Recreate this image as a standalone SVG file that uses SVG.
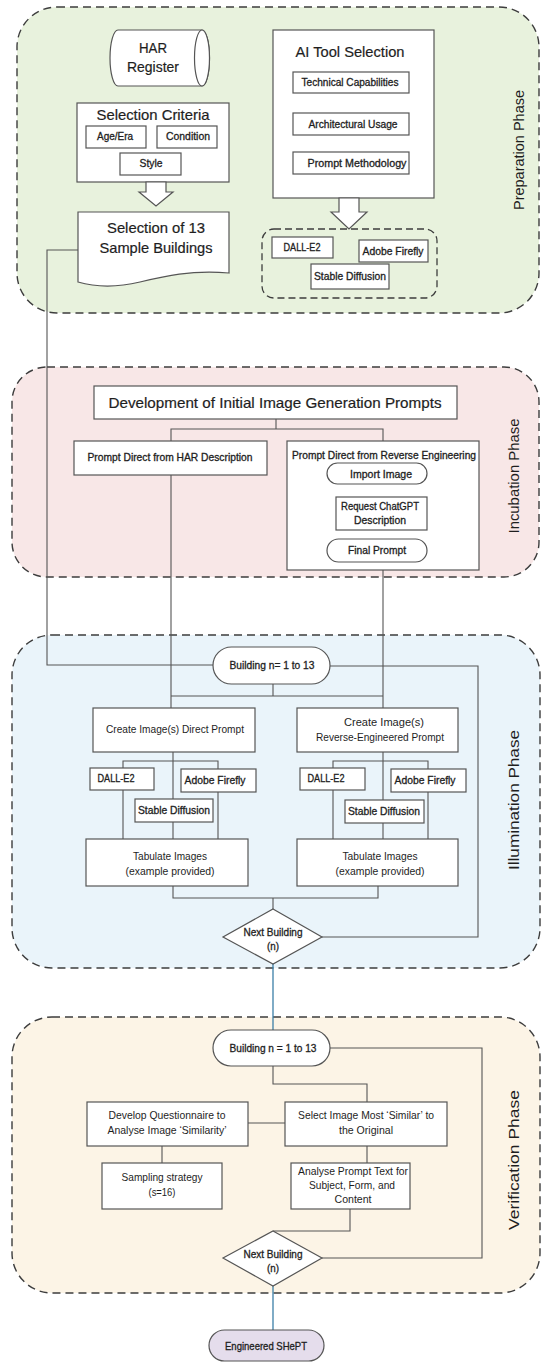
<svg xmlns="http://www.w3.org/2000/svg" width="550" height="1364" viewBox="0 0 550 1364">
<style>
.phase{stroke:#3d3d3d;stroke-width:1.4;stroke-dasharray:8 5}
.box{fill:#fff;stroke:#555;stroke-width:1.2}
.dbox{fill:none;stroke:#3d3d3d;stroke-width:1.3;stroke-dasharray:7 4}
.con{fill:none;stroke:#555;stroke-width:1.1}
.blue{fill:none;stroke:#3b7fa8;stroke-width:1.3}
text{font-family:"Liberation Sans",Arial,sans-serif;fill:#1e1e1e;text-anchor:middle}
.t{font-size:14.5px;stroke:#1e1e1e;stroke-width:0.2}
.s{font-size:10.2px;stroke:#1e1e1e;stroke-width:0.3}
.r{font-size:10.2px}
.ph{font-size:14px}
</style>
<g id="phases">
<rect x="17" y="7" width="522" height="306" rx="40" fill="#e8f2dd" class="phase"/>
<rect x="12" y="367" width="527" height="210" rx="35" fill="#f8e7e7" class="phase"/>
<rect x="12" y="635" width="528" height="333" rx="40" fill="#eaf4fa" class="phase"/>
<rect x="12" y="1017" width="528" height="276" rx="40" fill="#fcf4e6" class="phase"/>
<text class="ph" transform="translate(524,150) rotate(-90)" textLength="120" lengthAdjust="spacingAndGlyphs">Preparation Phase</text>
<text class="ph" transform="translate(519,476) rotate(-90)" textLength="115" lengthAdjust="spacingAndGlyphs">Incubation Phase</text>
<text class="ph" transform="translate(519,800) rotate(-90)" textLength="140" lengthAdjust="spacingAndGlyphs">Illumination Phase</text>
<text class="ph" transform="translate(519,1160) rotate(-90)" textLength="140" lengthAdjust="spacingAndGlyphs">Verification  Phase</text>
</g>
<g id="connectors">
<path class="con" d="M78 250 H47 V665 H213"/>
<path class="con" d="M276 419 V429 M171 441 V429 H383 V441"/>
<path class="con" d="M383 484 V497 M383 530 V539"/>
<path class="con" d="M171 475 V708 M383 570 V708"/>
<path class="con" d="M330 666 H478 V937 H322"/>
<path class="con" d="M273 684 V696 M171 696 H383"/>
<path class="con" d="M173 752 V799 M123 768 V761 H218 V769 M173 822 V839 M123 790 V839 M218 792 V839"/>
<path class="con" d="M383 752 V800 M333 768 V761 H428 V769 M383 823 V839 M333 790 V839 M428 792 V839"/>
<path class="con" d="M173 886 V898 H378 V886 M273 898 V909"/>
<path class="blue" d="M273 964 V1030"/>
<path class="con" d="M273 1066 V1084 H367 V1102"/>
<path class="con" d="M330 1048 H482 V1258 H322"/>
<path class="con" d="M285 1123 H248 M162 1146 V1163 M367 1146 V1163"/>
<path class="con" d="M350 1209 V1231 H273"/>
<path class="blue" d="M273 1286 V1330"/>
</g>
<g id="har-register">
<path class="box" d="M118 30 H202 A7.5 28 0 0 1 202 86 H118 A8 28 0 0 1 118 30 Z"/>
<ellipse cx="202" cy="58" rx="7.5" ry="28" class="box"/>
<text class="t" x="153" y="53" textLength="28" lengthAdjust="spacingAndGlyphs">HAR</text>
<text class="t" x="153" y="72" textLength="52" lengthAdjust="spacingAndGlyphs">Register</text>
</g>
<g id="selection-criteria">
<rect class="box" x="77" y="103" width="152" height="79"/>
<text class="t" x="153" y="120" textLength="113" lengthAdjust="spacingAndGlyphs">Selection Criteria</text>
<rect class="box" x="86" y="126" width="60" height="22"/>
<text class="s" x="115" y="140" textLength="36" lengthAdjust="spacingAndGlyphs">Age/Era</text>
<rect class="box" x="157" y="126" width="60" height="22"/>
<text class="s" x="188" y="140" textLength="44" lengthAdjust="spacingAndGlyphs">Condition</text>
<rect class="box" x="120" y="153" width="61" height="22"/>
<text class="s" x="151" y="167" textLength="23" lengthAdjust="spacingAndGlyphs">Style</text>
<polygon class="box" points="146,182 146,192 139,192 156,206 173,192 166,192 166,182"/>
</g>
<g id="sample-buildings">
<path class="box" d="M78 212 H229 V273 C190 270 165 276 140 282 C115 288 95 287 78 282 Z"/>
<text class="t" x="156" y="233" textLength="98" lengthAdjust="spacingAndGlyphs">Selection of 13</text>
<text class="t" x="156" y="253" textLength="113" lengthAdjust="spacingAndGlyphs">Sample Buildings</text>
</g>
<g id="ai-tool-selection">
<rect class="box" x="273" y="30" width="161" height="168"/>
<text class="t" x="350" y="57" style="font-size:15px" textLength="109" lengthAdjust="spacingAndGlyphs">AI Tool Selection</text>
<rect class="box" x="293" y="72" width="116" height="21"/>
<text class="s" x="350" y="86" textLength="97" lengthAdjust="spacingAndGlyphs">Technical Capabilities</text>
<rect class="box" x="293" y="113" width="116" height="22"/>
<text class="s" x="353" y="128" textLength="89" lengthAdjust="spacingAndGlyphs">Architectural Usage</text>
<rect class="box" x="293" y="152" width="116" height="22"/>
<text class="s" x="357" y="167" textLength="99" lengthAdjust="spacingAndGlyphs">Prompt Methodology</text>
</g>
<g id="ai-tools">
<rect class="dbox" x="262" y="229" width="175" height="69" rx="12" fill="#e8f2dd"/>
<polygon class="box" points="339,198 339,212 331,212 349,229 367,212 359,212 359,198"/>
<rect class="box" x="272" y="237" width="61" height="21"/>
<text class="s" x="302" y="251" textLength="37" lengthAdjust="spacingAndGlyphs">DALL-E2</text>
<rect class="box" x="359" y="240" width="69" height="22"/>
<text class="s" x="393" y="255" textLength="61" lengthAdjust="spacingAndGlyphs">Adobe Firefly</text>
<rect class="box" x="311" y="264" width="78" height="25"/>
<text class="s" x="350" y="280" textLength="72" lengthAdjust="spacingAndGlyphs">Stable Diffusion</text>
</g>
<g id="development">
<rect class="box" x="94" y="386" width="363" height="33"/>
<text class="t" x="275" y="408" style="font-size:15px" textLength="333" lengthAdjust="spacingAndGlyphs">Development of Initial Image Generation Prompts</text>
</g>
<g id="prompt-har">
<rect class="box" x="74" y="441" width="193" height="34"/>
<text class="s" x="170" y="461" textLength="165" lengthAdjust="spacingAndGlyphs">Prompt Direct from HAR Description</text>
</g>
<g id="prompt-reverse">
<rect class="box" x="287" y="441" width="192" height="129"/>
<text class="s" x="384" y="459" textLength="184" lengthAdjust="spacingAndGlyphs">Prompt Direct from Reverse Engineering</text>
<rect class="box" x="327" y="463" width="100" height="21" rx="10.5"/>
<text class="s" x="381" y="478" textLength="62" lengthAdjust="spacingAndGlyphs">Import Image</text>
<rect class="box" x="336" y="497" width="91" height="33"/>
<text class="s" x="380" y="510" textLength="78" lengthAdjust="spacingAndGlyphs">Request ChatGPT</text>
<text class="s" x="380" y="524" textLength="52" lengthAdjust="spacingAndGlyphs">Description</text>
<rect class="box" x="327" y="539" width="100" height="23" rx="11.5"/>
<text class="s" x="377" y="554" textLength="58" lengthAdjust="spacingAndGlyphs">Final Prompt</text>
</g>
<g id="building-loop-1">
<rect class="box" x="213" y="647" width="117" height="37" rx="18.5"/>
<text class="s" x="272" y="669" textLength="85" lengthAdjust="spacingAndGlyphs">Building n= 1 to 13</text>
</g>
<g id="create-direct">
<rect class="box" x="93" y="708" width="162" height="44"/>
<text class="r" x="175" y="733" textLength="138" lengthAdjust="spacingAndGlyphs">Create Image(s) Direct Prompt</text>
<rect class="box" x="90" y="768" width="64" height="22"/>
<text class="s" x="116" y="782" textLength="37" lengthAdjust="spacingAndGlyphs">DALL-E2</text>
<rect class="box" x="181" y="769" width="75" height="23"/>
<text class="s" x="215" y="784" textLength="61" lengthAdjust="spacingAndGlyphs">Adobe Firefly</text>
<rect class="box" x="135" y="799" width="78" height="23"/>
<text class="s" x="174" y="814" textLength="72" lengthAdjust="spacingAndGlyphs">Stable Diffusion</text>
<rect class="box" x="86" y="839" width="162" height="47"/>
<text class="r" x="170" y="860" textLength="74" lengthAdjust="spacingAndGlyphs">Tabulate Images</text>
<text class="r" x="170" y="875" textLength="89" lengthAdjust="spacingAndGlyphs">(example provided)</text>
</g>
<g id="create-reverse">
<rect class="box" x="297" y="708" width="161" height="44"/>
<text class="r" x="384" y="726" textLength="80" lengthAdjust="spacingAndGlyphs">Create Image(s)</text>
<text class="r" x="380" y="741" textLength="128" lengthAdjust="spacingAndGlyphs">Reverse-Engineered Prompt</text>
<rect class="box" x="300" y="768" width="65" height="22"/>
<text class="s" x="326" y="782" textLength="37" lengthAdjust="spacingAndGlyphs">DALL-E2</text>
<rect class="box" x="391" y="769" width="75" height="23"/>
<text class="s" x="425" y="784" textLength="61" lengthAdjust="spacingAndGlyphs">Adobe Firefly</text>
<rect class="box" x="345" y="800" width="79" height="23"/>
<text class="s" x="384" y="815" textLength="72" lengthAdjust="spacingAndGlyphs">Stable Diffusion</text>
<rect class="box" x="297" y="839" width="161" height="47"/>
<text class="r" x="380" y="860" textLength="75" lengthAdjust="spacingAndGlyphs">Tabulate Images</text>
<text class="r" x="380" y="875" textLength="89" lengthAdjust="spacingAndGlyphs">(example provided)</text>
</g>
<g id="next-building-1">
<polygon class="box" points="273,909 322,937 273,964 223,937"/>
<text class="s" x="273" y="936" textLength="59" lengthAdjust="spacingAndGlyphs">Next Building</text>
<text class="s" x="273" y="950" textLength="12" lengthAdjust="spacingAndGlyphs">(n)</text>
</g>
<g id="building-loop-2">
<rect class="box" x="213" y="1030" width="117" height="36" rx="18"/>
<text class="s" x="273" y="1052" textLength="87" lengthAdjust="spacingAndGlyphs">Building n = 1 to 13</text>
</g>
<g id="questionnaire">
<rect class="box" x="87" y="1102" width="161" height="44"/>
<text class="r" x="167" y="1119" textLength="117" lengthAdjust="spacingAndGlyphs">Develop Questionnaire to</text>
<text class="r" x="167" y="1134" textLength="119" lengthAdjust="spacingAndGlyphs">Analyse Image ‘Similarity’</text>
</g>
<g id="select-image">
<rect class="box" x="285" y="1102" width="162" height="44"/>
<text class="r" x="366" y="1119" textLength="136" lengthAdjust="spacingAndGlyphs">Select Image Most ‘Similar’ to</text>
<text class="r" x="366" y="1134" textLength="54" lengthAdjust="spacingAndGlyphs">the Original</text>
</g>
<g id="sampling">
<rect class="box" x="102" y="1163" width="120" height="46"/>
<text class="r" x="162" y="1181" textLength="81" lengthAdjust="spacingAndGlyphs">Sampling strategy</text>
<text class="r" x="162" y="1196" textLength="27" lengthAdjust="spacingAndGlyphs">(s=16)</text>
</g>
<g id="analyse-prompt">
<rect class="box" x="291" y="1163" width="119" height="46"/>
<text class="r" x="353" y="1175" textLength="110" lengthAdjust="spacingAndGlyphs">Analyse Prompt Text for</text>
<text class="r" x="352" y="1189" textLength="86" lengthAdjust="spacingAndGlyphs">Subject, Form, and</text>
<text class="r" x="353" y="1203" textLength="37" lengthAdjust="spacingAndGlyphs">Content</text>
</g>
<g id="next-building-2">
<polygon class="box" points="273,1231 322,1258 273,1286 223,1258"/>
<text class="s" x="273" y="1258" textLength="59" lengthAdjust="spacingAndGlyphs">Next Building</text>
<text class="s" x="273" y="1272" textLength="12" lengthAdjust="spacingAndGlyphs">(n)</text>
</g>
<g id="engineered-shept">
<rect x="209" y="1330" width="115" height="31" rx="15.5" fill="#e5ddec" stroke="#555" stroke-width="1.2"/>
<text class="s" x="266" y="1350" textLength="82" lengthAdjust="spacingAndGlyphs">Engineered SHePT</text>
</g>
</svg>
